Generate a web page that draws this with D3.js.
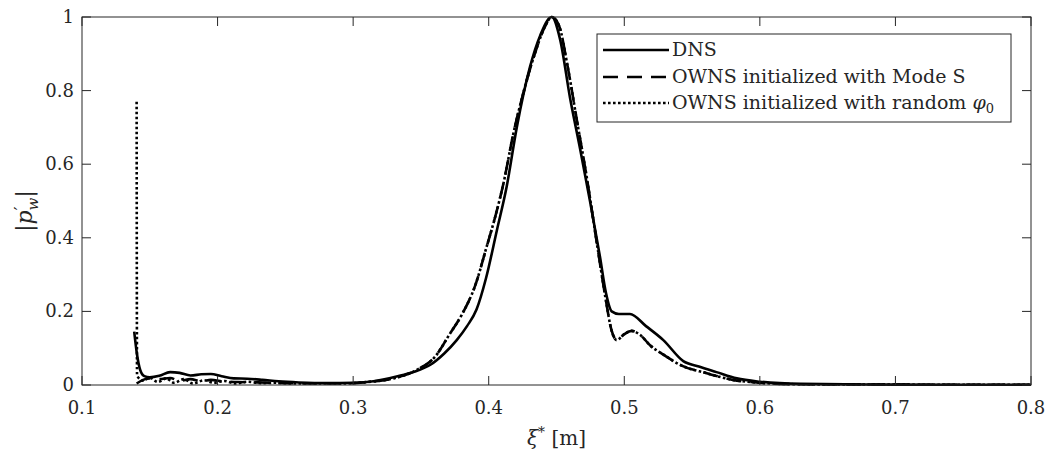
<!DOCTYPE html>
<html><head><meta charset="utf-8">
<script src="https://cdn.jsdelivr.net/npm/d3@7"></script>
<style>
html,body{margin:0;padding:0;background:#fff;}
</style></head>
<body><svg id="c" width="1049" height="453" font-family="'DejaVu Serif', 'Liberation Serif', serif"></svg>
<script>
// ---- data ----
const xTicks = [0.1,0.2,0.3,0.4,0.5,0.6,0.7,0.8];
const yTicks = [0,0.2,0.4,0.6,0.8,1];
const xTickLabels = ["0.1","0.2","0.3","0.4","0.5","0.6","0.7","0.8"];
const yTickLabels = ["0","0.2","0.4","0.6","0.8","1"];
const seriesNames = ["DNS","OWNS initialized with Mode S","OWNS initialized with random"];

const dnsX = [0.1385,0.1405,0.143,0.146,0.150,0.157,0.165,0.172,0.180,0.188,0.195,0.203,0.212,0.222,0.233,0.245,0.26,0.28,0.30,0.315,0.332,0.345,0.357,0.367,0.3764,0.384,0.391,0.398,0.406,0.4133,0.4207,0.4305,0.438,0.4465,0.4526,0.46,0.4675,0.4747,0.482,0.4865,0.4907,0.496,0.5042,0.516,0.5288,0.5435,0.555,0.568,0.583,0.60,0.63,0.70,0.80];
const dnsY = [0.145,0.085,0.040,0.024,0.021,0.025,0.035,0.033,0.026,0.029,0.030,0.024,0.018,0.017,0.014,0.010,0.007,0.005,0.006,0.010,0.023,0.036,0.055,0.085,0.122,0.160,0.205,0.290,0.420,0.540,0.700,0.865,0.950,1.000,0.940,0.780,0.640,0.500,0.350,0.250,0.200,0.193,0.193,0.160,0.122,0.065,0.050,0.035,0.018,0.009,0.003,0.001,0.0005];

const modeSX = [0.1403,0.145,0.150,0.157,0.165,0.172,0.180,0.188,0.195,0.205,0.215,0.23,0.25,0.27,0.29,0.31,0.33,0.347,0.36,0.3715,0.38,0.39,0.3985,0.405,0.411,0.418,0.426,0.434,0.441,0.4465,0.452,0.458,0.465,0.4725,0.48,0.486,0.4905,0.4944,0.50,0.5055,0.512,0.519,0.53,0.541,0.5608,0.58,0.60,0.63,0.70,0.80];
const modeSY = [0.004,0.014,0.018,0.016,0.019,0.011,0.016,0.010,0.014,0.009,0.008,0.007,0.005,0.004,0.004,0.008,0.018,0.041,0.075,0.140,0.190,0.270,0.376,0.460,0.550,0.680,0.800,0.900,0.970,1.000,0.975,0.870,0.720,0.560,0.380,0.240,0.150,0.122,0.138,0.147,0.135,0.108,0.080,0.055,0.032,0.014,0.006,0.002,0.001,0.0005];

const randX = [0.1403,0.1406,0.145,0.150,0.156,0.162,0.168,0.175,0.182,0.190,0.197,0.205,0.213,0.222,0.232,0.243,0.255,0.27,0.29,0.31,0.33,0.347,0.36,0.3715,0.38,0.39,0.3985,0.405,0.411,0.418,0.426,0.434,0.441,0.4465,0.452,0.458,0.465,0.4725,0.48,0.486,0.4905,0.4944,0.50,0.5055,0.512,0.519,0.53,0.541,0.5608,0.58,0.60,0.63,0.70,0.80];
const randY = [0.770,0.025,0.012,0.020,0.008,0.018,0.006,0.016,0.004,0.013,0.006,0.011,0.004,0.009,0.005,0.006,0.004,0.004,0.004,0.008,0.018,0.041,0.075,0.140,0.190,0.270,0.376,0.460,0.550,0.680,0.800,0.900,0.970,1.000,0.975,0.870,0.720,0.560,0.380,0.240,0.150,0.122,0.138,0.147,0.135,0.108,0.080,0.055,0.032,0.014,0.006,0.002,0.001,0.0005];

// ---- layout ----
const svg = d3.select("#c");
const L = 82, R = 1031, T = 17, B = 385;
const x = d3.scaleLinear().domain([0.1,0.8]).range([L,R]);
const y = d3.scaleLinear().domain([0,1]).range([B,T]);
const axisColor = "#262626";
const txtColor = "#262626";
const dashPat = "15,9";
const dotPat = "2.6,2.4";

// lines
const toPts = (xs,ys)=>xs.map((v,i)=>[v,ys[i]]);
const line = d3.line().x(d=>x(d[0])).y(d=>y(d[1])).curve(d3.curveMonotoneX);
const g = svg.append("g");
g.append("path").attr("d",line(toPts(dnsX,dnsY))).attr("fill","none").attr("stroke","#000").attr("stroke-width",2.6);
g.append("path").attr("d",line(toPts(modeSX,modeSY))).attr("fill","none").attr("stroke","#000").attr("stroke-width",2.6).attr("stroke-dasharray",dashPat);
g.append("path").attr("d",line(toPts(randX,randY))).attr("fill","none").attr("stroke","#000").attr("stroke-width",2.6).attr("stroke-dasharray",dotPat);

// axes
const tickLen = 9;
const ax = svg.append("g").attr("stroke",axisColor).attr("stroke-width",1).attr("fill","none");
ax.append("rect").attr("x",L).attr("y",T).attr("width",R-L).attr("height",B-T);
xTicks.forEach(t=>{
  ax.append("line").attr("x1",x(t)).attr("x2",x(t)).attr("y1",B).attr("y2",B-tickLen);
  ax.append("line").attr("x1",x(t)).attr("x2",x(t)).attr("y1",T).attr("y2",T+tickLen);
});
yTicks.forEach(t=>{
  ax.append("line").attr("x1",L).attr("x2",L+tickLen).attr("y1",y(t)).attr("y2",y(t));
  ax.append("line").attr("x1",R).attr("x2",R-tickLen).attr("y1",y(t)).attr("y2",y(t));
});
xTicks.forEach((t,i)=>{
  svg.append("text").attr("x",x(t)).attr("y",B+29).attr("text-anchor","middle").attr("font-size",18).attr("fill",txtColor).text(xTickLabels[i]);
});
yTicks.forEach((t,i)=>{
  svg.append("text").attr("x",L-8).attr("y",y(t)+6).attr("text-anchor","end").attr("font-size",18).attr("fill",txtColor).text(yTickLabels[i]);
});

// x label
const xl = svg.append("text").attr("x",(L+R)/2).attr("y",B+60).attr("text-anchor","middle").attr("font-size",20).attr("fill",txtColor);
xl.append("tspan").attr("font-style","italic").text("ξ");
xl.append("tspan").attr("font-size",14).attr("dy",-8).text("*");
xl.append("tspan").attr("dy",8).text(" [m]");

// y label
const yl = svg.append("text").attr("transform",`translate(32,${(T+B)/2+10}) rotate(-90)`).attr("text-anchor","middle").attr("font-size",22).attr("fill",txtColor);
yl.append("tspan").text("|");
yl.append("tspan").attr("font-style","italic").text("p");
yl.append("tspan").attr("font-size",17).attr("dy",-6).text("′");
yl.append("tspan").attr("font-size",15).attr("font-style","italic").attr("dy",12).attr("dx",-4).text("w");
yl.append("tspan").attr("dy",-6).text("|");

// legend
const lg = svg.append("g");
lg.append("rect").attr("x",597).attr("y",34).attr("width",414).attr("height",88).attr("fill","#fff").attr("stroke",axisColor).attr("stroke-width",1);
const dashes = [null,dashPat,dotPat];
const rowsY = [50,77,103];
seriesNames.forEach((n,i)=>{
  const ln = lg.append("line").attr("x1",603).attr("x2",669).attr("y1",rowsY[i]).attr("y2",rowsY[i]).attr("stroke","#000").attr("stroke-width",2.6);
  if(dashes[i]) ln.attr("stroke-dasharray",dashes[i]);
  const t = lg.append("text").attr("x",672).attr("y",rowsY[i]+6).attr("font-size",19).attr("fill",txtColor).text(n);
  if(i===2){
    t.append("tspan").text(" ");
    t.append("tspan").attr("font-style","italic").text("φ");
    t.append("tspan").attr("font-size",13).attr("dy",4).text("0");
  }
});
</script></body></html>
